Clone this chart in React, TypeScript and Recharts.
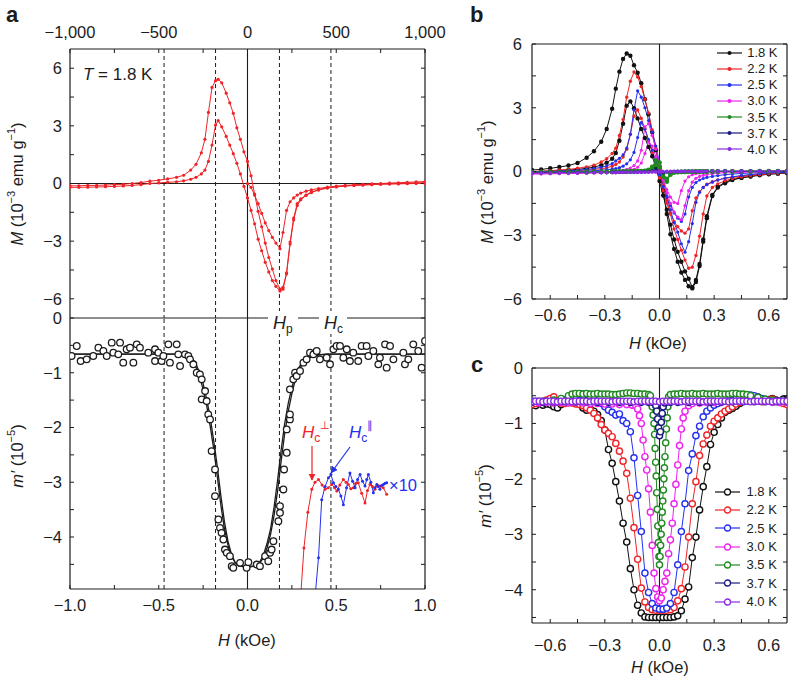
import React from 'react';
import { LineChart, Line, XAxis, YAxis, ReferenceLine, Legend } from 'recharts';

const FONT = '"Liberation Sans", Arial, Helvetica, sans-serif';
const INK = '#1c1c1c';
const RED = '#ee2428';
const BLUE = '#2430ee';

const temps = ['1.8 K', '2.2 K', '2.5 K', '3.0 K', '3.5 K', '3.7 K', '4.0 K'];
const tempColors = ['#111111', '#ee2428', '#2430ee', '#ee22ee', '#1f8a1f', '#1a1a80', '#8a2be2'];

// ---- panel a, top: M (1e-3 emu/g) vs H (Oe) at 1.8 K ----
const loopH = [-1000, -950, -900, -850, -800, -750, -700, -650, -600, -550, -500, -450, -400,
  -360, -320, -290, -260, -240, -220, -200, -180, -165, -145, -120, -100, -80, -60, -40, -20,
  0, 20, 40, 60, 80, 100, 120, 140, 160, 183, 200, 220, 240, 260, 280, 300, 330, 360, 400, 450,
  500, 550, 600, 650, 700, 750, 800, 850, 900, 950, 1000];
const loopUpper = [-0.12, -0.12, -0.1, -0.1, -0.08, -0.06, -0.04, 0.0, 0.05, 0.12, 0.17, 0.24, 0.32,
  0.43, 0.7, 1.0, 1.6, 2.3, 3.7, 5.0, 5.35, 5.42, 5.24, 4.7, 4.2, 3.65, 2.9, 2.3, 1.65,
  1.15, 0.4, -0.55, -1.45, -2.25, -3.1, -3.85, -4.45, -5.05, -5.5, -5.4, -4.65, -3.05, -1.8, -1.05, -0.8, -0.6, -0.45, -0.32, -0.22,
  -0.16, -0.12, -0.1, -0.08, -0.06, -0.04, -0.03, -0.02, -0.01, 0, 0];
const loopLower = [-0.2, -0.2, -0.19, -0.18, -0.17, -0.15, -0.13, -0.1, -0.06, 0.0, 0.03, 0.06, 0.09,
  0.14, 0.22, 0.32, 0.5, 0.7, 1.15, 2.0, 3.05, 3.27, 2.95, 2.45, 2.0, 1.55, 1.05, 0.5, -0.15,
  -0.75, -1.4, -2.1, -2.9, -3.5, -4.1, -4.6, -5.05, -5.35, -5.6, -5.5, -4.7, -3.15, -1.9, -1.15, -0.85, -0.62, -0.47, -0.34, -0.24,
  -0.18, -0.13, -0.1, -0.07, -0.05, -0.03, -0.01, 0, 0.02, 0.03, 0.05];
const virginH = [0, 20, 40, 60, 80, 100, 120, 140, 160, 183, 200, 220, 240, 260, 280, 300, 330, 360, 400, 450,
  500, 550, 600, 650, 700, 750, 800, 850, 900, 950, 1000];
const virginM = [0, -0.2, -0.6, -1.05, -1.55, -2.05, -2.45, -2.8, -3.1, -3.4, -2.55, -1.4, -0.95, -0.75, -0.6, -0.5, -0.4, -0.33, -0.26, -0.19,
  -0.14, -0.1, -0.07, -0.04, -0.02, 0, 0.02, 0.04, 0.06, 0.08, 0.1];

// ---- panel a, bottom: m' (1e-5) vs H (kOe) ----
const ringData: [number, number][] = [
  [-0.991, -0.694], [-0.962, -0.511], [-0.94, -0.786], [-0.906, -0.755], [-0.869, -0.694], [-0.84, -0.542],
  [-0.812, -0.603], [-0.793, -0.694], [-0.765, -0.45], [-0.756, -0.633], [-0.728, -0.664], [-0.718, -0.45],
  [-0.7, -0.816], [-0.681, -0.572], [-0.662, -0.542], [-0.643, -0.816], [-0.624, -0.481], [-0.606, -0.542],
  [-0.559, -0.633], [-0.521, -0.572], [-0.521, -0.786], [-0.502, -0.633], [-0.484, -0.786], [-0.474, -0.694],
  [-0.446, -0.481], [-0.437, -0.816], [-0.399, -0.481], [-0.39, -0.664], [-0.38, -0.877], [-0.352, -0.664],
  [-0.333, -0.694], [-0.324, -0.755], [-0.305, -0.846], [-0.286, -0.999], [-0.268, -1.029], [-0.258, -1.121],
  [-0.258, -1.486], [-0.239, -1.334], [-0.23, -1.517], [-0.221, -1.761], [-0.211, -1.852], [-0.202, -2.431],
  [-0.183, -2.766], [-0.183, -3.254], [-0.164, -3.68], [-0.155, -3.833], [-0.146, -3.924], [-0.136, -4.046],
  [-0.127, -4.229], [-0.117, -4.29], [-0.099, -4.35], [-0.089, -4.533], [-0.08, -4.564], [-0.042, -4.472],
  [-0.005, -4.564], [0.005, -4.46], [0.052, -4.503], [0.07, -4.533], [0.099, -4.35], [0.117, -4.442],
  [0.127, -4.29], [0.136, -4.229], [0.146, -4.076], [0.174, -3.711], [0.183, -3.558], [0.183, -3.436],
  [0.202, -3.132], [0.206, -2.766], [0.221, -2.461], [0.221, -2.035], [0.239, -1.852], [0.239, -1.761],
  [0.239, -1.303], [0.258, -1.121], [0.268, -0.999], [0.277, -1.06], [0.296, -0.968], [0.315, -0.816],
  [0.333, -0.755], [0.352, -0.633], [0.371, -0.664], [0.39, -0.603], [0.408, -0.755], [0.446, -0.725],
  [0.465, -0.846], [0.484, -0.572], [0.502, -0.511], [0.521, -0.51], [0.54, -0.725], [0.559, -0.572],
  [0.577, -0.786], [0.596, -0.633], [0.624, -0.786], [0.643, -0.511], [0.671, -0.511], [0.681, -0.694],
  [0.709, -0.603], [0.737, -0.847], [0.746, -0.725], [0.775, -0.481], [0.784, -0.907], [0.803, -0.511],
  [0.822, -0.755], [0.878, -0.633], [0.887, -0.847], [0.906, -0.755], [0.934, -0.481], [0.962, -0.603],
  [0.981, -0.907], [1.0, -0.42],
];
const fitH = [-1.0, -0.9, -0.8, -0.7, -0.6, -0.5, -0.4,
  -0.36, -0.33, -0.31, -0.29, -0.27, -0.25, -0.23, -0.21, -0.19, -0.17, -0.15, -0.13, -0.11, -0.09, -0.07, -0.05,
  0,
  0.05, 0.07, 0.09, 0.11, 0.13, 0.15, 0.17, 0.19, 0.21, 0.23, 0.25, 0.27, 0.29, 0.31, 0.33, 0.36,
  0.4, 0.45, 0.5, 0.6, 0.7, 0.8, 0.9, 1.0];
const fitUp = [-0.66, -0.66, -0.66, -0.66, -0.66, -0.66, -0.66,
  -0.67, -0.7, -0.78, -0.9, -1.08, -1.3, -1.6, -1.98, -2.4, -2.9, -3.42, -3.85, -4.15, -4.35, -4.47, -4.53,
  -4.55,
  -4.53, -4.47, -4.38, -4.2, -3.95, -3.6, -3.15, -2.6, -2.1, -1.7, -1.38, -1.12, -0.95, -0.84, -0.77, -0.71,
  -0.68, -0.66, -0.66, -0.66, -0.66, -0.66, -0.66, -0.66];
const fitDown = [-0.66, -0.66, -0.66, -0.66, -0.66, -0.66, -0.66,
  -0.66, -0.68, -0.74, -0.84, -1.0, -1.2, -1.48, -1.82, -2.25, -2.72, -3.25, -3.72, -4.08, -4.32, -4.46, -4.52,
  -4.55,
  -4.52, -4.45, -4.33, -4.12, -3.85, -3.45, -2.95, -2.4, -1.92, -1.55, -1.27, -1.05, -0.9, -0.8, -0.74, -0.7,
  -0.67, -0.66, -0.66, -0.66, -0.66, -0.66, -0.66, -0.66];
// x10 traces (Hc perpendicular / parallel)
const perpH = [0.295, 0.318, 0.34, 0.362, 0.38, 0.4, 0.42, 0.437, 0.455, 0.475, 0.49, 0.503, 0.52, 0.54, 0.555,
  0.568, 0.582, 0.596, 0.61, 0.624, 0.643, 0.662, 0.676, 0.69, 0.704, 0.718, 0.732, 0.746, 0.765, 0.784];
const perpM = [-5.3, -4.2, -3.55, -3.13, -3.0, -2.95, -3.05, -3.13, -3.1, -3.04, -3.1, -3.16, -3.05, -2.95, -3.0,
  -3.04, -3.12, -3.1, -3.02, -3.01, -3.2, -3.38, -3.15, -3.04, -3.08, -3.13, -3.05, -3.07, -3.1, -3.22];
const paraH = [0.375, 0.4, 0.418, 0.437, 0.456, 0.47, 0.484, 0.498, 0.512, 0.526, 0.54, 0.558, 0.577, 0.592, 0.606,
  0.62, 0.634, 0.648, 0.662, 0.672, 0.681, 0.695, 0.709, 0.718, 0.728, 0.737, 0.746, 0.756, 0.765, 0.775, 0.784];
const paraM = [-5.3, -4.38, -3.32, -3.08, -2.92, -2.86, -3.01, -3.08, -3.13, -3.25, -3.41, -3.1, -2.83, -2.98, -3.1,
  -2.95, -2.86, -2.98, -3.07, -2.95, -2.86, -3.0, -3.19, -3.1, -3.04, -3.08, -3.13, -3.06, -3.04, -3.02, -3.01];
const markersKOe = [-0.47, -0.18, 0.18, 0.47];

// ---- panel b: M vs H (kOe) for several temperatures ----
const gridB = [-0.7, -0.65, -0.6, -0.55, -0.5, -0.45, -0.4, -0.36, -0.32, -0.29, -0.26, -0.24, -0.22, -0.2, -0.18,
  -0.16, -0.14, -0.12, -0.1, -0.08, -0.06, -0.04, -0.02, 0, 0.02, 0.04, 0.06, 0.08, 0.1, 0.12, 0.14, 0.16, 0.18,
  0.2, 0.22, 0.24, 0.26, 0.29, 0.32, 0.36, 0.4, 0.45, 0.5, 0.55, 0.6, 0.65, 0.7];
const m18a = [0.07, 0.1, 0.15, 0.21, 0.28, 0.4, 0.65, 0.95, 1.4, 2.0,
  2.95, 3.9, 4.7, 5.3, 5.55, 5.45, 5.0, 4.65, 4.15, 3.4,
  2.7, 1.85, 1.0, 0.25, -0.9, -2.0, -2.95, -3.65, -4.25, -4.75,
  -5.1, -5.4, -5.5, -5.2, -4.45, -3.3, -2.2, -1.15, -0.75, -0.55,
  -0.4, -0.3, -0.24, -0.18, -0.13, -0.1, -0.07];
const m18b = [-0.02, 0, 0.02, 0.04, 0.07, 0.1, 0.15, 0.21, 0.3, 0.41,
  0.6, 0.87, 1.45, 2.25, 3.1, 3.3, 2.98, 2.5, 2.0, 1.58,
  1.15, 0.72, 0.2, -0.45, -1.13, -1.8, -2.5, -3.2, -3.78, -4.25,
  -4.7, -5.05, -5.45, -5.1, -4.35, -3.2, -2.1, -1.1, -0.72, -0.5,
  -0.38, -0.28, -0.22, -0.16, -0.12, -0.09, -0.06];
const m22a = [0, 0.02, 0.04, 0.07, 0.1, 0.15, 0.22, 0.3, 0.45, 0.6,
  0.85, 1.1, 1.7, 2.45, 3.5, 4.25, 4.68, 4.45, 4.0, 3.4,
  2.75, 1.95, 1.1, 0.1, -0.65, -1.35, -2.0, -2.7, -3.2, -3.7,
  -4.17, -4.55, -4.5, -3.95, -3.05, -2.0, -1.15, -0.75, -0.58, -0.44,
  -0.33, -0.26, -0.2, -0.15, -0.11, -0.08, -0.05];
const m22b = [-0.05, -0.04, -0.02, 0, 0.02, 0.04, 0.07, 0.1, 0.13, 0.17,
  0.25, 0.33, 0.45, 0.68, 1.05, 1.75, 2.6, 2.9, 2.5, 2.0,
  1.45, 0.9, 0.35, -0.3, -0.9, -1.49, -1.95, -2.35, -2.6, -2.8,
  -2.9, -2.7, -1.85, -1.25, -0.95, -0.75, -0.6, -0.48, -0.4, -0.33,
  -0.27, -0.21, -0.16, -0.12, -0.09, -0.06, -0.04];
const m25a = [-0.02, -0.01, 0, 0.02, 0.04, 0.06, 0.1, 0.14, 0.2, 0.26,
  0.37, 0.5, 0.62, 0.78, 1.1, 1.75, 2.9, 3.8, 3.5, 3.0,
  2.4, 1.85, 1.2, 0.4, -0.4, -1.17, -1.8, -2.4, -2.85, -3.4,
  -3.8, -3.3, -2.45, -1.45, -0.98, -0.75, -0.62, -0.5, -0.4, -0.31,
  -0.25, -0.19, -0.14, -0.1, -0.07, -0.05, -0.03];
const m25b = [-0.05, -0.04, -0.03, -0.02, -0.01, 0, 0.02, 0.04, 0.06, 0.08,
  0.11, 0.14, 0.18, 0.25, 0.36, 0.55, 0.9, 1.6, 2.3, 2.0,
  1.5, 1.0, 0.45, -0.15, -0.7, -1.2, -1.6, -1.95, -2.2, -2.35,
  -2.0, -1.2, -0.75, -0.52, -0.4, -0.33, -0.28, -0.23, -0.19, -0.15,
  -0.12, -0.09, -0.07, -0.05, -0.04, -0.03, -0.02];
const m30a = [-0.1, -0.09, -0.08, -0.07, -0.06, -0.05, -0.04, -0.03, -0.02, -0.01,
  0, 0.02, 0.04, 0.06, 0.1, 0.16, 0.28, 0.5, 1.0, 2.1,
  2.25, 1.7, 1.05, 0.35, -0.4, -1.0, -1.5, -1.9, -2.15, -2.27,
  -1.6, -0.9, -0.5, -0.32, -0.23, -0.18, -0.14, -0.1, -0.08, -0.06,
  -0.05, -0.04, -0.03, -0.02, -0.01, 0, 0];
const m30b = [-0.12, -0.12, -0.11, -0.1, -0.1, -0.09, -0.08, -0.07, -0.06, -0.05,
  -0.04, -0.03, -0.02, 0, 0.02, 0.05, 0.1, 0.2, 0.4, 0.85,
  1.4, 1.2, 0.7, 0.15, -0.4, -0.85, -1.2, -1.45, -1.5, -0.9,
  -0.45, -0.25, -0.15, -0.1, -0.07, -0.05, -0.04, -0.03, -0.02, -0.01,
  0, 0, 0.01, 0.01, 0.02, 0.02, 0.02];
const m35a = [-0.03, -0.03, -0.03, -0.03, -0.02, -0.02, -0.02, -0.02, -0.02, -0.02,
  -0.01, -0.01, -0.01, -0.01, 0, 0, 0, 0.01, 0.02, 0.03,
  0.08, 0.22, 0.52, 0.2, -0.25, -0.48, -0.15, -0.05, -0.03, -0.02,
  -0.02, -0.01, -0.01, -0.01, 0, 0, 0, 0, 0, 0,
  0, 0.01, 0.01, 0.01, 0.01, 0.01, 0.01];
const m35b = [-0.04, -0.04, -0.04, -0.03, -0.03, -0.03, -0.03, -0.02, -0.02, -0.02,
  -0.02, -0.02, -0.01, -0.01, -0.01, 0, 0, 0, 0.01, 0.02,
  0.05, 0.12, 0.3, 0.42, -0.1, -0.35, -0.1, -0.03, -0.02, -0.02,
  -0.01, -0.01, -0.01, 0, 0, 0, 0, 0, 0.01, 0.01,
  0.01, 0.01, 0.01, 0.02, 0.02, 0.02, 0.02];
const m37 = [-0.05, -0.05, -0.05, -0.05, -0.04, -0.04, -0.04, -0.04, -0.04, -0.04,
  -0.03, -0.03, -0.03, -0.03, -0.03, -0.03, -0.02, -0.02, -0.02, -0.01,
  0, 0.03, 0.08, 0.02, -0.06, -0.03, -0.01, 0, 0, 0,
  0, 0, 0, 0, 0, 0, 0, 0, 0.01, 0.01,
  0.01, 0.01, 0.01, 0.01, 0.01, 0.01, 0.01];
const m40 = [-0.07, -0.07, -0.07, -0.06, -0.06, -0.06, -0.06, -0.05, -0.05, -0.05,
  -0.05, -0.05, -0.04, -0.04, -0.04, -0.04, -0.04, -0.03, -0.03, -0.03,
  -0.03, -0.02, -0.02, -0.01, -0.01, 0, 0, 0, 0, 0.01,
  0.01, 0.01, 0.01, 0.01, 0.01, 0.01, 0.02, 0.02, 0.02, 0.02,
  0.02, 0.02, 0.02, 0.02, 0.02, 0.02, 0.02];

// ---- panel c: m' vs H (kOe) for several temperatures ----
const gridC = [-0.7, -0.68, -0.66, -0.64, -0.62, -0.6, -0.58, -0.56, -0.54, -0.52,
  -0.5, -0.48, -0.46, -0.44, -0.42, -0.4, -0.38, -0.36, -0.34, -0.32,
  -0.3, -0.28, -0.26, -0.24, -0.22, -0.2, -0.18, -0.16, -0.14, -0.12,
  -0.1, -0.08, -0.06, -0.04, -0.02, 0, 0.02, 0.04, 0.06, 0.08,
  0.1, 0.12, 0.14, 0.16, 0.18, 0.2, 0.22, 0.24, 0.26, 0.28,
  0.3, 0.32, 0.34, 0.36, 0.38, 0.4, 0.42, 0.44, 0.46, 0.48,
  0.5, 0.52, 0.54, 0.56, 0.58, 0.6, 0.62, 0.64, 0.66, 0.68, 0.7];
const c18 = [-0.66, -0.68, -0.64, -0.67, -0.65, -0.66, -0.7, -0.72, -0.66, -0.6,
  -0.62, -0.58, -0.56, -0.64, -0.72, -0.76, -0.74, -0.78, -0.84, -0.95,
  -1.12, -1.47, -1.72, -2.05, -2.4, -2.8, -3.14, -3.62, -4.0, -4.28,
  -4.42, -4.49, -4.5, -4.5, -4.5, -4.5, -4.5, -4.5, -4.5, -4.49,
  -4.47, -4.38, -4.17, -3.95, -3.42, -3.05, -2.56, -2.14, -1.78, -1.38,
  -1.16, -1.02, -0.9, -0.8, -0.76, -0.73, -0.69, -0.64, -0.6, -0.6,
  -0.58, -0.58, -0.59, -0.6, -0.6, -0.57, -0.55, -0.58, -0.6, -0.56, -0.58];
const c22 = [-0.66, -0.64, -0.62, -0.6, -0.58, -0.55, -0.52, -0.6, -0.63, -0.64,
  -0.62, -0.63, -0.65, -0.66, -0.68, -0.72, -0.76, -0.82, -0.9, -1.02,
  -1.12, -1.18, -1.24, -1.36, -1.5, -1.68, -1.9, -2.35, -2.88, -3.45,
  -3.97, -4.22, -4.32, -4.36, -4.37, -4.37, -4.37, -4.37, -4.36, -4.32,
  -4.2, -3.98, -3.59, -3.05, -2.45, -2.05, -1.58, -1.37, -1.21, -1.05,
  -0.96, -0.9, -0.83, -0.78, -0.74, -0.7, -0.65, -0.62, -0.6, -0.58,
  -0.56, -0.57, -0.59, -0.61, -0.6, -0.58, -0.56, -0.6, -0.62, -0.64, -0.66];
const c25 = [-0.6, -0.6, -0.61, -0.6, -0.6, -0.61, -0.6, -0.6, -0.59, -0.58,
  -0.55, -0.52, -0.5, -0.48, -0.47, -0.48, -0.52, -0.56, -0.6, -0.64,
  -0.7, -0.76, -0.8, -0.85, -0.83, -0.95, -1.0, -1.15, -1.62, -2.3,
  -2.95, -3.7, -4.05, -4.25, -4.33, -4.35, -4.35, -4.33, -4.25, -4.05,
  -3.55, -2.95, -2.45, -1.85, -1.55, -1.22, -1.05, -0.88, -0.78, -0.72,
  -0.67, -0.64, -0.62, -0.6, -0.59, -0.58, -0.56, -0.54, -0.52, -0.5,
  -0.49, -0.5, -0.52, -0.55, -0.57, -0.59, -0.6, -0.6, -0.6, -0.6, -0.6];
const c40 = [-0.61, -0.6, -0.6, -0.61, -0.6, -0.6, -0.6, -0.61, -0.6, -0.6,
  -0.6, -0.61, -0.6, -0.6, -0.6, -0.6, -0.61, -0.6, -0.6, -0.6,
  -0.6, -0.6, -0.61, -0.6, -0.6, -0.6, -0.6, -0.6, -0.61, -0.6,
  -0.6, -0.6, -0.6, -0.6, -0.6, -0.61, -0.6, -0.6, -0.6, -0.6,
  -0.6, -0.61, -0.6, -0.6, -0.6, -0.6, -0.6, -0.61, -0.6, -0.6,
  -0.6, -0.6, -0.6, -0.6, -0.61, -0.6, -0.6, -0.6, -0.6, -0.6,
  -0.61, -0.6, -0.6, -0.6, -0.6, -0.6, -0.61, -0.6, -0.6, -0.6, -0.6];
const h30c = [-0.7, -0.66, -0.62, -0.58, -0.54, -0.5, -0.46, -0.42, -0.38, -0.34, -0.3, -0.26, -0.22, -0.18, -0.15, -0.13,
  -0.12, -0.11, -0.1, -0.09, -0.08, -0.07, -0.06, -0.05, -0.04, -0.03, -0.02, -0.01, 0,
  0.01, 0.02, 0.03, 0.04, 0.05, 0.06, 0.07, 0.08, 0.09, 0.1, 0.11, 0.12, 0.13, 0.14, 0.16, 0.18,
  0.22, 0.26, 0.3, 0.34, 0.38, 0.42, 0.46, 0.5, 0.54, 0.58, 0.62, 0.66, 0.7];
const c30 = [-0.62, -0.63, -0.62, -0.63, -0.62, -0.63, -0.62, -0.63, -0.64, -0.64, -0.65, -0.65, -0.66, -0.66, -0.67, -0.68,
  -0.74, -0.86, -1.0, -1.3, -1.6, -1.84, -2.18, -2.6, -3.2, -3.7, -3.98, -4.13, -4.2,
  -4.15, -4.0, -3.85, -3.7, -3.35, -3.1, -2.8, -2.45, -2.1, -1.75, -1.4, -1.1, -0.9, -0.78, -0.68, -0.64,
  -0.63, -0.62, -0.62, -0.61, -0.6, -0.6, -0.58, -0.55, -0.58, -0.6, -0.62, -0.62, -0.62];
const h35c = [-0.7, -0.66, -0.62, -0.58, -0.54, -0.5,
  -0.48, -0.46, -0.44, -0.42, -0.4, -0.38, -0.36, -0.34, -0.32, -0.3, -0.28, -0.26, -0.24, -0.22, -0.2, -0.18, -0.16,
  -0.14, -0.12, -0.1, -0.08, -0.06,
  -0.05, -0.04, -0.035, -0.03, -0.027, -0.024, -0.021, -0.018, -0.015, -0.012, -0.009, -0.006, -0.003, 0,
  0.003, 0.006, 0.009, 0.012, 0.015, 0.018, 0.021, 0.024, 0.027, 0.03, 0.034, 0.038, 0.042, 0.046, 0.05,
  0.06, 0.08, 0.1, 0.12, 0.14, 0.16, 0.18, 0.2, 0.22, 0.24, 0.26, 0.28, 0.3, 0.32, 0.34, 0.36, 0.38, 0.4,
  0.42, 0.44, 0.46, 0.48, 0.5,
  0.54, 0.58, 0.62, 0.66, 0.7];
const c35 = [-0.6, -0.6, -0.6, -0.58, -0.55, -0.5,
  -0.47, -0.46, -0.46, -0.47, -0.46, -0.47, -0.47, -0.46, -0.47, -0.47, -0.47, -0.48, -0.48, -0.47, -0.46, -0.45, -0.45,
  -0.46, -0.46, -0.47, -0.47, -0.48,
  -0.5, -0.7, -0.85, -1.0, -1.2, -1.45, -1.7, -1.95, -2.25, -2.55, -2.85, -3.15, -3.4, -3.55,
  -3.4, -3.2, -3.0, -2.8, -2.6, -2.4, -2.2, -2.0, -1.8, -1.6, -1.35, -1.1, -0.9, -0.7, -0.52,
  -0.48, -0.47, -0.47, -0.46, -0.47, -0.47, -0.46, -0.47, -0.47, -0.46, -0.47, -0.47, -0.47, -0.46, -0.47, -0.47, -0.47, -0.46,
  -0.46, -0.47, -0.47, -0.48, -0.5,
  -0.53, -0.56, -0.58, -0.6, -0.6];
const h37c = [-0.7, -0.64, -0.58, -0.52, -0.46, -0.4, -0.34, -0.28, -0.22, -0.16, -0.1, -0.06, -0.03,
  -0.02, -0.015, -0.01, -0.005, 0, 0.005, 0.01, 0.015, 0.02, 0.03, 0.06, 0.1,
  0.16, 0.22, 0.28, 0.34, 0.4, 0.46, 0.52, 0.58, 0.64, 0.7];
const c37 = [-0.62, -0.62, -0.61, -0.61, -0.61, -0.61, -0.62, -0.62, -0.62, -0.62, -0.62, -0.62, -0.63,
  -0.68, -0.78, -0.92, -1.08, -1.22, -1.15, -0.98, -0.82, -0.7, -0.63, -0.62, -0.62,
  -0.62, -0.62, -0.62, -0.61, -0.61, -0.61, -0.61, -0.61, -0.61, -0.61];

// ---- helpers ----
const pts = (hs: number[], ms: number[]) => hs.map((h, i) => ({ x: h, y: ms[i] }));
const minus = (s: string) => s.replace(/-/g, '\u2212');
const near = (v: number, step: number) => Math.abs(v / step - Math.round(v / step)) < 1e-6;
const fmtEvery = (step: number, digits: number) => (v: number) => (near(v, step) ? minus(v.toFixed(digits)) : '');
const fmtOe = (v: number) => (near(v, 500) ? minus(v.toLocaleString('en-US')) : '');
const blank = () => '';

const frame = { stroke: INK, strokeWidth: 1.2 };
const tickMark = { stroke: INK, strokeWidth: 1 };
const tickText = { fontSize: 16.5, fill: INK, fontFamily: FONT };

const oeTicks = [-1000, -750, -500, -250, 0, 250, 500, 750, 1000];
const koeTicks = [-1, -0.75, -0.5, -0.25, 0, 0.25, 0.5, 0.75, 1];
const mTicks = [-6, -4.5, -3, -1.5, 0, 1.5, 3, 4.5, 6];
const mpTicksA = [-4.5, -4, -3.5, -3, -2.5, -2, -1.5, -1, -0.5, 0];
const hTicksBC = [-0.6, -0.45, -0.3, -0.15, 0, 0.15, 0.3, 0.45, 0.6];

const legendRows = (rowH: number, open: boolean) => (props: any) => {
  const seen = new Set<string>();
  const payload = ((props && props.payload) || []).filter((e: any) => {
    if (e.type === 'none' || seen.has(e.value)) return false;
    seen.add(e.value);
    return true;
  });
  return (
    <div style={{ fontFamily: FONT, fontSize: 13, color: INK, lineHeight: 1 }}>
      {payload.map((e: any) => (
        <div key={e.value} style={{ display: 'flex', alignItems: 'center', height: rowH, whiteSpace: 'nowrap' }}>
          <svg width={25} height={10}>
            <line x1={0} y1={5} x2={25} y2={5} stroke={e.color} strokeWidth={1.2} />
            {open ? (
              <circle cx={12.5} cy={5} r={3} fill="#fff" stroke={e.color} strokeWidth={1.3} />
            ) : (
              <circle cx={12.5} cy={5} r={2} fill={e.color} />
            )}
          </svg>
          <span style={{ marginLeft: open ? 6.5 : 5.5 }}>{e.value}</span>
        </div>
      ))}
    </div>
  );
};

function PanelATop() {
  const dot = { r: 1.6, fill: RED, stroke: RED, strokeWidth: 0 };
  return (
    <LineChart width={460} height={330} margin={{ top: 19, right: 34, bottom: 12, left: 30 }}>
      <XAxis type="number" dataKey="x" orientation="top" domain={[-1000, 1000]} ticks={oeTicks} interval={0}
        tickFormatter={fmtOe} height={30} tickSize={-4} tickMargin={15} axisLine={frame} tickLine={tickMark}
        tick={tickText} allowDataOverflow />
      <YAxis type="number" domain={[-7, 7]} ticks={mTicks} interval={0} tickFormatter={fmtEvery(3, 0)} width={40}
        tickSize={-4} tickMargin={12} axisLine={frame} tickLine={tickMark} tick={tickText} allowDataOverflow />
      <YAxis yAxisId="r" orientation="right" type="number" domain={[-7, 7]} ticks={mTicks} interval={0}
        tickFormatter={blank} width={1} tickSize={-4} axisLine={frame} tickLine={tickMark} allowDataOverflow />
      <ReferenceLine y={0} stroke={INK} strokeWidth={1.1} />
      <ReferenceLine x={0} stroke={INK} strokeWidth={1.1} />
      {markersKOe.map((h) => (
        <ReferenceLine key={h} x={h * 1000} stroke={INK} strokeWidth={1} strokeDasharray="4 3" />
      ))}
      <Line data={pts(loopH, loopUpper)} dataKey="y" stroke={RED} strokeWidth={1} dot={dot} isAnimationActive={false} />
      <Line data={pts(loopH, loopLower)} dataKey="y" stroke={RED} strokeWidth={1} dot={dot} isAnimationActive={false} />
      <Line data={pts(virginH, virginM)} dataKey="y" stroke={RED} strokeWidth={1} dot={dot} isAnimationActive={false} />
    </LineChart>
  );
}

function PanelABottom() {
  const rings = ringData.map(([h, m]) => ({ x: h, y: m }));
  return (
    <LineChart width={460} height={377} margin={{ top: 18, right: 34, bottom: 58, left: 30 }}>
      <XAxis type="number" dataKey="x" domain={[-1, 1]} ticks={koeTicks} interval={0} tickFormatter={fmtEvery(0.5, 1)}
        height={30} tickSize={-4} tickMargin={14} axisLine={frame} tickLine={tickMark} tick={tickText} allowDataOverflow />
      <YAxis type="number" domain={[-4.95, 0]} ticks={mpTicksA} interval={0} tickFormatter={fmtEvery(1, 0)} width={40}
        tickSize={-4} tickMargin={12} axisLine={frame} tickLine={tickMark} tick={tickText} allowDataOverflow />
      <YAxis yAxisId="r" orientation="right" type="number" domain={[-4.95, 0]} ticks={mpTicksA} interval={0}
        tickFormatter={blank} width={1} tickSize={-4} axisLine={frame} tickLine={tickMark} allowDataOverflow />
      <ReferenceLine y={0} stroke={INK} strokeWidth={1.2} />
      <ReferenceLine x={0} stroke={INK} strokeWidth={1.1} />
      {markersKOe.map((h) => (
        <ReferenceLine key={h} x={h} stroke={INK} strokeWidth={1} strokeDasharray="4 3" />
      ))}
      <Line data={rings} dataKey="y" stroke="none" dot={{ r: 3.3, fill: '#fff', stroke: INK, strokeWidth: 1.3 }}
        isAnimationActive={false} />
      <Line data={pts(fitH, fitUp)} dataKey="y" stroke={INK} strokeWidth={1.3} dot={false} isAnimationActive={false} />
      <Line data={pts(fitH, fitDown)} dataKey="y" stroke={INK} strokeWidth={1.3} dot={false} isAnimationActive={false} />
      <Line data={pts(perpH, perpM)} dataKey="y" stroke={RED} strokeWidth={1}
        dot={{ r: 1.5, fill: RED, stroke: RED, strokeWidth: 0 }} isAnimationActive={false} />
      <Line data={pts(paraH, paraM)} dataKey="y" stroke={BLUE} strokeWidth={1}
        dot={{ r: 1.5, fill: BLUE, stroke: BLUE, strokeWidth: 0 }} isAnimationActive={false} />
    </LineChart>
  );
}

const loopsB = [
  { name: temps[0], color: tempColors[0], branches: [m18a, m18b], r: 2.2 },
  { name: temps[1], color: tempColors[1], branches: [m22a, m22b], r: 1.7 },
  { name: temps[2], color: tempColors[2], branches: [m25a, m25b], r: 1.6 },
  { name: temps[3], color: tempColors[3], branches: [m30a, m30b], r: 1.6 },
  { name: temps[4], color: tempColors[4], branches: [m35a, m35b], r: 2.4 },
  { name: temps[5], color: tempColors[5], branches: [m37], r: 1.7 },
  { name: temps[6], color: tempColors[6], branches: [m40], r: 1.9 },
];

function PanelB() {
  return (
    <LineChart width={318} height={330} margin={{ top: 43, right: 0, bottom: 1, left: 22 }}>
      <XAxis type="number" dataKey="x" domain={[-0.7, 0.7]} ticks={hTicksBC} interval={0} tickFormatter={fmtEvery(0.3, 1)}
        height={30} tickSize={-4} tickMargin={14} axisLine={frame} tickLine={tickMark} tick={tickText} allowDataOverflow />
      <XAxis xAxisId="t" orientation="top" type="number" domain={[-0.7, 0.7]} ticks={hTicksBC} interval={0}
        tickFormatter={blank} height={1} tickSize={-4} axisLine={frame} tickLine={tickMark} allowDataOverflow />
      <YAxis type="number" domain={[-6, 6]} ticks={mTicks} interval={0} tickFormatter={fmtEvery(3, 0)} width={40}
        tickSize={-4} tickMargin={14} axisLine={frame} tickLine={tickMark} tick={tickText} allowDataOverflow />
      <YAxis yAxisId="r" orientation="right" type="number" domain={[-6, 6]} ticks={mTicks} interval={0}
        tickFormatter={blank} width={1} tickSize={-4} axisLine={frame} tickLine={tickMark} allowDataOverflow />
      <ReferenceLine x={0} stroke={INK} strokeWidth={1.1} />
      {loopsB.flatMap((s) =>
        s.branches.map((m, j) => (
          <Line key={s.name + j} data={pts(gridB, m)} dataKey="y" name={s.name} stroke={s.color} strokeWidth={1}
            legendType={j === 0 ? 'line' : 'none'}
            dot={{ r: s.r, fill: s.color, stroke: s.color, strokeWidth: 0 }} isAnimationActive={false} />
        ))
      )}
      <Legend layout="horizontal" verticalAlign="middle" align="center"
        wrapperStyle={{ left: 246.7, top: 44.6, width: 'auto', height: 'auto' }} content={legendRows(16.1, false)} />
    </LineChart>
  );
}

const seriesC = [
  { name: temps[0], color: tempColors[0], h: gridC, m: c18 },
  { name: temps[1], color: tempColors[1], h: gridC, m: c22 },
  { name: temps[2], color: tempColors[2], h: gridC, m: c25 },
  { name: temps[3], color: tempColors[3], h: h30c, m: c30 },
  { name: temps[4], color: tempColors[4], h: h35c, m: c35 },
  { name: temps[5], color: tempColors[5], h: h37c, m: c37 },
  { name: temps[6], color: tempColors[6], h: gridC, m: c40 },
];

function PanelC() {
  return (
    <LineChart width={318} height={337} margin={{ top: 27, right: 0, bottom: 24, left: 22 }}>
      <XAxis type="number" dataKey="x" domain={[-0.7, 0.7]} ticks={hTicksBC} interval={0} tickFormatter={fmtEvery(0.3, 1)}
        height={30} tickSize={-4} tickMargin={20} axisLine={frame} tickLine={tickMark} tick={tickText} allowDataOverflow />
      <XAxis xAxisId="t" orientation="top" type="number" domain={[-0.7, 0.7]} ticks={hTicksBC} interval={0}
        tickFormatter={blank} height={1} tickSize={-4} axisLine={frame} tickLine={tickMark} allowDataOverflow />
      <YAxis type="number" domain={[-4.6, 0]} ticks={mpTicksA} interval={0} tickFormatter={fmtEvery(1, 0)} width={40}
        tickSize={-4} tickMargin={13} axisLine={frame} tickLine={tickMark} tick={tickText} allowDataOverflow />
      <YAxis yAxisId="r" orientation="right" type="number" domain={[-4.6, 0]} ticks={mpTicksA} interval={0}
        tickFormatter={blank} width={1} tickSize={-4} axisLine={frame} tickLine={tickMark} allowDataOverflow />
      <ReferenceLine x={0} stroke={INK} strokeWidth={1.1} />
      {seriesC.map((s) => (
        <Line key={s.name} data={pts(s.h, s.m)} dataKey="y" name={s.name} stroke={s.color} strokeWidth={1}
          dot={{ r: 3.1, fill: '#fff', stroke: s.color, strokeWidth: 1.4 }} isAnimationActive={false} />
      ))}
      <Legend layout="horizontal" verticalAlign="middle" align="center"
        wrapperStyle={{ left: 245, top: 142.5, width: 'auto', height: 'auto' }} content={legendRows(18.33, true)} />
    </LineChart>
  );
}

function Annotations() {
  const sup = 11;
  return (
    <svg width={788} height={677} style={{ position: 'absolute', left: 0, top: 0, pointerEvents: 'none' }}
      fontFamily={FONT} fill={INK}>
      <defs>
        <marker id="headRed" viewBox="0 0 10 10" refX="9" refY="5" markerWidth="6" markerHeight="6" orient="auto">
          <path d="M0,0 L10,5 L0,10 z" fill={RED} />
        </marker>
        <marker id="headBlue" viewBox="0 0 10 10" refX="9" refY="5" markerWidth="6" markerHeight="6" orient="auto">
          <path d="M0,0 L10,5 L0,10 z" fill={BLUE} />
        </marker>
      </defs>
      <text x={6} y={22} fontSize={22} fontWeight="bold">a</text>
      <text x={470} y={22} fontSize={22} fontWeight="bold">b</text>
      <text x={471} y={372} fontSize={22} fontWeight="bold">c</text>

      <text x={83} y={80} fontSize={17}><tspan fontStyle="italic">T</tspan> = 1.8 K</text>

      {/* panel a axis titles */}
      <text x={17} y={184} fontSize={16.5} textAnchor="middle" dominantBaseline="central" transform="rotate(-90 17 184)">
        <tspan fontStyle="italic">M</tspan>{'  (10'}<tspan fontSize={sup} dy={-6}>−3</tspan>
        <tspan dy={6}> emu g</tspan><tspan fontSize={sup} dy={-6}>−1</tspan><tspan dy={6}>)</tspan>
      </text>
      <text x={17} y={456} fontSize={16.5} textAnchor="middle" dominantBaseline="central" transform="rotate(-90 17 456)">
        <tspan fontStyle="italic">m′</tspan>{' (10'}<tspan fontSize={sup} dy={-6}>−5</tspan><tspan dy={6}>)</tspan>
      </text>
      <text x={247} y={646} fontSize={16.5} textAnchor="middle"><tspan fontStyle="italic">H</tspan> (kOe)</text>

      {/* Hp / Hc labels on the zero line */}
      <rect x={268} y={311} width={30} height={23} fill="#fff" />
      <rect x={319} y={311} width={28} height={23} fill="#fff" />
      <text x={273} y={329} fontSize={18}><tspan fontStyle="italic">H</tspan><tspan fontSize={12} dy={4}>p</tspan></text>
      <text x={324} y={329} fontSize={18}><tspan fontStyle="italic">H</tspan><tspan fontSize={12} dy={4}>c</tspan></text>

      {/* critical field annotations */}
      <text x={302} y={438} fontSize={17} fill={RED}>
        <tspan fontStyle="italic">H</tspan><tspan fontSize={12} dy={4}>c</tspan><tspan fontSize={11} dy={-13}>⊥</tspan>
      </text>
      <line x1={312} y1={446} x2={312} y2={480} stroke={RED} strokeWidth={1.2} markerEnd="url(#headRed)" />
      <text x={349} y={438} fontSize={17} fill={BLUE}>
        <tspan fontStyle="italic">H</tspan><tspan fontSize={12} dy={4}>c</tspan><tspan fontSize={11} dy={-13}>∥</tspan>
      </text>
      <line x1={350} y1={447} x2={331} y2={473} stroke={BLUE} strokeWidth={1.2} markerEnd="url(#headBlue)" />
      <text x={389} y={491} fontSize={16.5} fill={BLUE}>×10</text>

      {/* panel b / c axis titles */}
      <text x={487} y={182} fontSize={16.5} textAnchor="middle" dominantBaseline="central" transform="rotate(-90 487 182)">
        <tspan fontStyle="italic">M</tspan>{'  (10'}<tspan fontSize={sup} dy={-6}>−3</tspan>
        <tspan dy={6}> emu g</tspan><tspan fontSize={sup} dy={-6}>−1</tspan><tspan dy={6}>)</tspan>
      </text>
      <text x={658} y={349} fontSize={16.5} textAnchor="middle"><tspan fontStyle="italic">H</tspan> (kOe)</text>
      <text x={485} y={496} fontSize={16.5} textAnchor="middle" dominantBaseline="central" transform="rotate(-90 485 496)">
        <tspan fontStyle="italic">m′</tspan>{' (10'}<tspan fontSize={sup} dy={-6}>−5</tspan><tspan dy={6}>)</tspan>
      </text>
      <text x={660} y={673} fontSize={16.5} textAnchor="middle"><tspan fontStyle="italic">H</tspan> (kOe)</text>
    </svg>
  );
}

export default function App() {
  return (
    <div style={{ position: 'absolute', left: 0, top: 0, width: 788, height: 677, background: '#fff', overflow: 'hidden' }}>
      <div style={{ position: 'absolute', left: 0, top: 0 }}><PanelATop /></div>
      <div style={{ position: 'absolute', left: 0, top: 300 }}><PanelABottom /></div>
      <div style={{ position: 'absolute', left: 470, top: 0 }}><PanelB /></div>
      <div style={{ position: 'absolute', left: 470, top: 340 }}><PanelC /></div>
      <Annotations />
    </div>
  );
}
